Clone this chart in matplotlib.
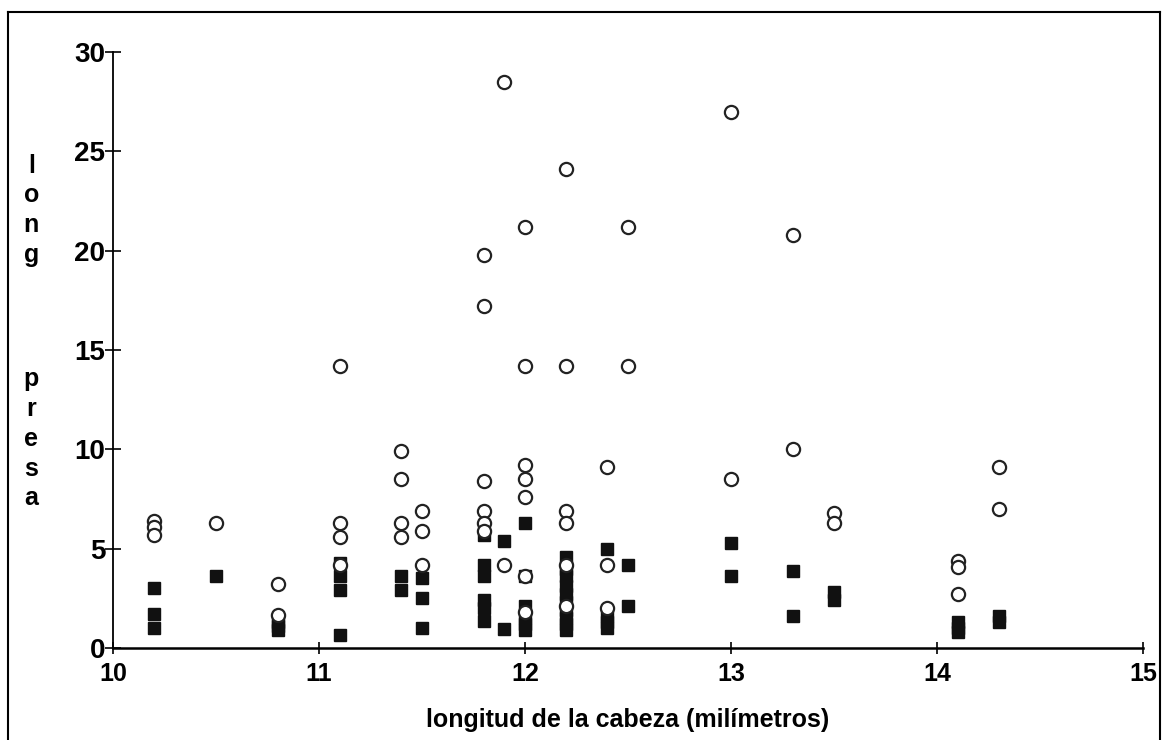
import matplotlib.pyplot as plt
from matplotlib.lines import Line2D

# open circles
circ_x = [10.2, 10.2, 10.2, 10.5, 10.8, 10.8,
          11.1, 11.1, 11.1, 11.1, 11.4, 11.4, 11.4, 11.4, 11.5, 11.5, 11.5,
          11.8, 11.8, 11.8, 11.8, 11.8, 11.8, 11.9, 11.9,
          12.0, 12.0, 12.0, 12.0, 12.0, 12.0, 12.0,
          12.2, 12.2, 12.2, 12.2, 12.2, 12.2, 12.4, 12.4, 12.4, 12.5, 12.5,
          13.0, 13.0, 13.3, 13.3, 13.5, 13.5, 14.1, 14.1, 14.1, 14.3, 14.3]
circ_y = [6.4, 6.1, 5.7, 6.3, 3.2, 1.65,
          14.2, 6.3, 5.6, 4.2, 9.9, 8.5, 6.3, 5.6, 6.9, 5.9, 4.2,
          19.8, 17.2, 8.4, 6.9, 6.3, 5.9, 28.5, 4.2,
          21.2, 14.2, 9.2, 8.5, 7.6, 3.6, 1.8,
          24.1, 14.2, 6.9, 6.3, 4.2, 2.1, 9.1, 4.2, 2.0, 21.2, 14.2,
          27.0, 8.5, 20.8, 10.0, 6.8, 6.3, 4.4, 4.1, 2.7, 9.1, 7.0]

# filled squares
sq_x = [10.2, 10.2, 10.2, 10.5, 10.8, 10.8, 10.8,
        11.1, 11.1, 11.1, 11.1, 11.4, 11.4, 11.5, 11.5, 11.5,
        11.8, 11.8, 11.8, 11.8, 11.8, 11.8, 11.9, 11.9,
        12.0, 12.0, 12.0, 12.0, 12.0, 12.0,
        12.2, 12.2, 12.2, 12.2, 12.2, 12.2, 12.2, 12.2, 12.2, 12.2,
        12.4, 12.4, 12.4, 12.4, 12.5, 12.5,
        13.0, 13.0, 13.3, 13.3, 13.5, 13.5, 14.1, 14.1, 14.1, 14.3, 14.3]
sq_y = [3.0, 1.7, 1.0, 3.6, 1.3, 1.1, 0.9,
        4.3, 3.6, 2.9, 0.65, 3.6, 2.9, 3.5, 2.5, 1.0,
        5.7, 4.2, 3.6, 2.4, 2.0, 1.35, 5.4, 0.95,
        6.3, 3.6, 2.1, 1.5, 1.2, 0.9,
        4.6, 4.0, 3.6, 3.1, 2.7, 2.3, 1.9, 1.5, 1.2, 0.9,
        5.0, 1.6, 1.3, 1.0, 4.2, 2.1,
        5.3, 3.6, 3.9, 1.6, 2.8, 2.4, 1.3, 1.0, 0.8, 1.6, 1.3]

x_ticks = [10, 11, 12, 13, 14, 15]
y_ticks = [0, 5, 10, 15, 20, 25, 30]

plt.rcParams['font.family'] = ['Liberation Sans', 'DejaVu Sans']

fig = plt.figure(figsize=(11.62, 7.4), dpi=100)
ax = fig.add_axes([0.0972, 0.1243, 0.8864, 0.8054])

ax.plot(sq_x, sq_y, linestyle='none', marker='s', ms=8, color='#111111', zorder=3)
ax.plot(circ_x, circ_y, linestyle='none', marker='o', ms=9.5, mfc='white',
        mec='#222222', mew=1.6, zorder=4)

ax.set_xlim(10, 15)
ax.set_ylim(0, 30)
ax.set_xticks(x_ticks)
ax.set_yticks(y_ticks)
ax.spines['top'].set_visible(False)
ax.spines['right'].set_visible(False)
ax.spines['left'].set_linewidth(1.3)
ax.spines['bottom'].set_linewidth(1.8)
ax.tick_params(axis='x', direction='inout', length=8, width=1.2, labelsize=18, pad=6)
ax.tick_params(axis='y', direction='inout', length=11, width=1.2, labelsize=20, pad=0)
for lab in ax.get_yticklabels() + ax.get_xticklabels():
    lab.set_fontweight('bold')

ax.set_xlabel('longitud de la cabeza (milímetros)', fontsize=18, fontweight='bold',
              labelpad=16)

# stacked vertical y label
fig.text(0.027, 0.716, 'l\no\nn\ng', ha='center', va='center', fontsize=18,
         fontweight='bold', linespacing=1.3)
fig.text(0.027, 0.407, 'p\nr\ne\ns\na', ha='center', va='center', fontsize=18,
         fontweight='bold', linespacing=1.3)

# outer frame
fig.add_artist(Line2D([0.007, 0.007], [0.0, 0.984], color='black', lw=1.5))
fig.add_artist(Line2D([0.007, 0.998], [0.984, 0.984], color='black', lw=1.5))
fig.add_artist(Line2D([0.998, 0.998], [0.0, 0.984], color='black', lw=1.5))

fig.savefig('out.png', dpi=100)
